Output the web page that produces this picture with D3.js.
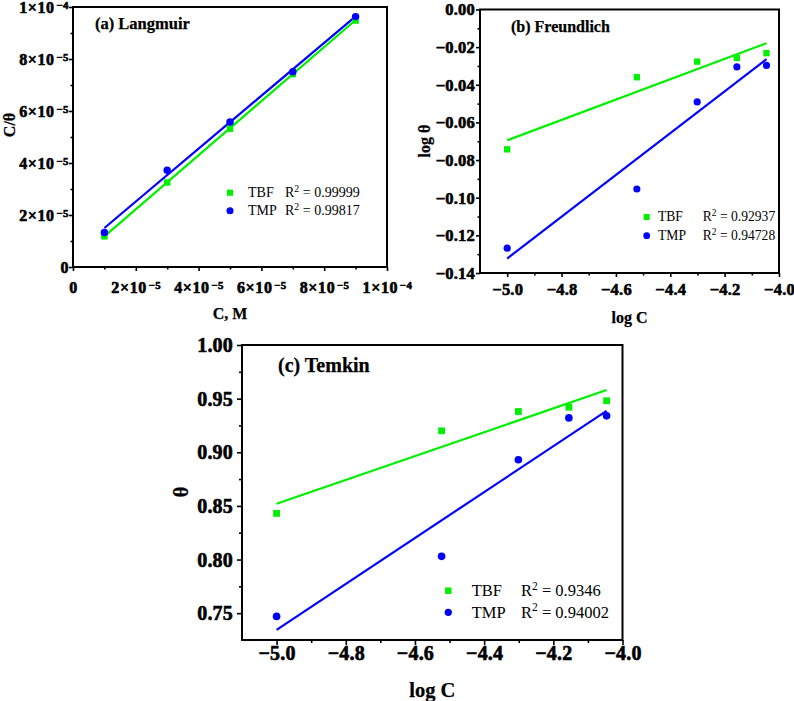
<!DOCTYPE html>
<html>
<head>
<meta charset="utf-8">
<script src="https://cdnjs.cloudflare.com/ajax/libs/d3/7.8.5/d3.min.js"></script>
<style>
  body { margin: 0; background: #fff; }
  svg { display: block; }
  .ticklab { font-family: 'Liberation Serif', 'Times New Roman', serif; font-weight: bold; fill: #000; stroke: #000; stroke-width: 0.6px; }
</style>
</head>
<body>
<svg id="chart" width="794" height="701"></svg>
<script>
// ---- data ----
var seriesNames = ["TBF", "TMP"];
var concM = [1e-5, 3e-5, 5e-5, 7e-5, 9e-5];
var logC  = [-5.0, -4.523, -4.301, -4.155, -4.046];

// (a) Langmuir  C/theta vs C
var langTBF = [1.18e-5, 3.25e-5, 5.32e-5, 7.42e-5, 9.48e-5];
var langTMP = [1.33e-5, 3.72e-5, 5.58e-5, 7.51e-5, 9.63e-5];
var langFitTBF = [[1e-5, 1.18e-5], [9e-5, 9.50e-5]];
var langFitTMP = [[1e-5, 1.50e-5], [9e-5, 9.64e-5]];
var langR2 = ["0.99999", "0.99817"];

// (b) Freundlich  log theta vs log C
var freTBF = [-0.0743, -0.0360, -0.0277, -0.0257, -0.0232];
var freTMP = [-0.1268, -0.0954, -0.0491, -0.0305, -0.0297];
var freFitTBF = [[-5.0, -0.0695], [-4.046, -0.0179]];
var freFitTMP = [[-5.0, -0.1323], [-4.046, -0.0264]];
var freR2 = ["0.92937", "0.94728"];

// (c) Temkin  theta vs log C
var temTBF = [0.843, 0.920, 0.938, 0.942, 0.948];
var temTMP = [0.747, 0.803, 0.893, 0.932, 0.934];
var temFitTBF = [[-5.0, 0.852], [-4.046, 0.958]];
var temFitTMP = [[-5.0, 0.7345], [-4.046, 0.9386]];
var temR2 = ["0.9346", "0.94002"];

// ticks
var langTicks = [0, 2e-5, 4e-5, 6e-5, 8e-5, 1e-4];
var langTickLabels = ["0", "2×10^−5", "4×10^−5", "6×10^−5", "8×10^−5", "1×10^−4"];
var langMinor = [1e-5, 3e-5, 5e-5, 7e-5, 9e-5];
var logCTicks = [-5.0, -4.8, -4.6, -4.4, -4.2, -4.0];
var logCTickLabels = ["−5.0", "−4.8", "−4.6", "−4.4", "−4.2", "−4.0"];
var logCMinor = [-4.9, -4.7, -4.5, -4.3, -4.1];
var freTicks = [0, -0.02, -0.04, -0.06, -0.08, -0.10, -0.12, -0.14];
var freTickLabels = ["0.00", "−0.02", "−0.04", "−0.06", "−0.08", "−0.10", "−0.12", "−0.14"];
var freMinor = [-0.01, -0.03, -0.05, -0.07, -0.09, -0.11, -0.13];
var temTicks = [0.75, 0.80, 0.85, 0.90, 0.95, 1.00];
var temTickLabels = ["0.75", "0.80", "0.85", "0.90", "0.95", "1.00"];
var temMinor = [0.775, 0.825, 0.875, 0.925, 0.975];

var svg = d3.select("#chart");
var serif = "'Liberation Serif', 'Times New Roman', serif";
var colors = ["#00f000", "#0000ff"];

// write "a^b" as text with a superscript
function supText(sel, str, fs) {
  var parts = str.split("^");
  sel.text(null);
  sel.append("tspan").text(parts[0]);
  if (parts.length > 1) {
    sel.append("tspan").attr("dx", 1.5).attr("dy", -fs * 0.26)
      .style("font-size", (fs * 0.68) + "px").text(parts[1]);
  }
}

function drawPanel(p) {
  var x = d3.scaleLinear().domain(p.xDomain).range([p.left, p.right]);
  var y = d3.scaleLinear().domain(p.yDomain).range([p.bottom, p.top]);
  var g = svg.append("g").attr("class", p.name);

  // minor ticks
  g.append("g").attr("transform", "translate(0," + p.bottom + ")")
    .call(d3.axisBottom(x).tickValues(p.xMinor).tickSize(p.minor).tickSizeOuter(0).tickFormat(""));
  g.append("g").attr("transform", "translate(" + p.left + ",0)")
    .call(d3.axisLeft(y).tickValues(p.yMinor).tickSize(p.minor).tickSizeOuter(0).tickFormat(""));

  // major ticks + labels
  var xa = g.append("g").attr("transform", "translate(0," + p.bottom + ")")
    .call(d3.axisBottom(x).tickValues(p.xTicks).tickSize(p.major).tickSizeOuter(0)
      .tickFormat(function(d, i) { return p.xLabels[i]; }));
  var ya = g.append("g").attr("transform", "translate(" + p.left + ",0)")
    .call(d3.axisLeft(y).tickValues(p.yTicks).tickSize(p.major).tickSizeOuter(0)
      .tickFormat(function(d, i) { return p.yLabels[i]; }));

  g.selectAll(".domain").remove();
  g.selectAll(".tick line").attr("stroke", "#000").attr("stroke-width", 1.6);

  [xa, ya].forEach(function(a) {
    a.attr("font-family", null).attr("font-size", null).attr("fill", null);
    a.selectAll("text")
      .attr("class", "ticklab")
      .attr("fill", null)
      .style("font-size", p.tickFont + "px")
      .style("letter-spacing", p.tickSpacing + "px")
      .each(function() {
        var t = d3.select(this);
        supText(t, t.text(), p.tickFont);
      });
  });
  xa.selectAll("text").attr("y", p.xLabelY).attr("dy", 0);
  ya.selectAll("text").attr("x", -p.yLabelGap).attr("dy", "0.33em");

  // frame
  g.append("rect")
    .attr("x", p.left).attr("y", p.top)
    .attr("width", p.right - p.left).attr("height", p.bottom - p.top)
    .attr("fill", "none").attr("stroke", "#000").attr("stroke-width", 2);

  // fit lines
  [p.fitA, p.fitB].forEach(function(f, k) {
    g.append("line")
      .attr("x1", x(f[0][0])).attr("y1", y(f[0][1]))
      .attr("x2", x(f[1][0])).attr("y2", y(f[1][1]))
      .attr("stroke", colors[k]).attr("stroke-width", 2.2);
  });

  // points
  var shapes = [d3.symbolSquare, d3.symbolCircle];
  [p.seriesA, p.seriesB].forEach(function(s, k) {
    g.selectAll(null).data(s).enter().append("path")
      .attr("d", d3.symbol().type(shapes[k]).size(p.mark[k]))
      .attr("transform", function(d, i) { return "translate(" + x(p.xs[i]) + "," + y(d) + ")"; })
      .attr("fill", colors[k]);
  });

  // panel title
  g.append("text").attr("x", p.title[0]).attr("y", p.title[1])
    .attr("stroke", "#000").attr("stroke-width", 0.25)
    .style("font-family", serif).style("font-weight", "bold").style("font-size", p.titleFont + "px")
    .text(p.titleText);

  // axis titles
  g.append("text").attr("x", (p.left + p.right) / 2).attr("y", p.xTitleY)
    .attr("text-anchor", "middle")
    .attr("stroke", "#000").attr("stroke-width", 0.25)
    .style("font-family", serif).style("font-weight", "bold").style("font-size", p.axisFont + "px")
    .text(p.xTitle);
  g.append("text")
    .attr("transform", "translate(" + p.yTitle[0] + "," + p.yTitle[1] + ") rotate(-90)")
    .attr("text-anchor", "middle")
    .attr("stroke", "#000").attr("stroke-width", 0.25)
    .style("font-family", serif).style("font-weight", "bold").style("font-size", p.axisFont + "px")
    .text(p.yTitleText);

  // legend
  seriesNames.forEach(function(name, k) {
    var ly = p.legend[1] + k * p.legend[4];
    g.append("path")
      .attr("d", d3.symbol().type(shapes[k]).size(p.mark[k] * 0.9))
      .attr("transform", "translate(" + p.legend[0] + "," + ly + ")")
      .attr("fill", colors[k]);
    g.append("text").attr("x", p.legend[2]).attr("y", ly + p.legendFont * 0.33)
      .style("font-family", serif).style("font-size", p.legendFont + "px")
      .text(name);
    var r = g.append("text").attr("x", p.legend[3]).attr("y", ly + p.legendFont * 0.33)
      .style("font-family", serif).style("font-size", p.legendFont + "px");
    r.append("tspan").text("R");
    r.append("tspan").attr("dy", -p.legendFont * 0.4).style("font-size", (p.legendFont * 0.7) + "px").text("2");
    r.append("tspan").attr("dy", p.legendFont * 0.4).text(" = " + p.r2[k]);
  });
}

drawPanel({
  name: "langmuir", left: 73, right: 387, top: 7, bottom: 267,
  xDomain: [0, 1e-4], yDomain: [0, 1e-4],
  xTicks: langTicks, xLabels: langTickLabels, xMinor: langMinor,
  yTicks: langTicks, yLabels: langTickLabels, yMinor: langMinor,
  major: 4, minor: 2.5, tickFont: 16, tickSpacing: 0.6, xLabelY: 26, yLabelGap: 4,
  xs: concM, seriesA: langTBF, seriesB: langTMP, fitA: langFitTBF, fitB: langFitTMP,
  mark: [42, 44],
  title: [95, 29], titleFont: 16.5, titleText: "(a) Langmuir",
  xTitle: "C, M", xTitleY: 319, yTitle: [15, 125], yTitleText: "C/θ", axisFont: 16,
  legend: [230, 192.7, 248, 285, 18], legendFont: 14, r2: langR2
});

drawPanel({
  name: "freundlich", left: 480, right: 779, top: 9.5, bottom: 273,
  xDomain: [-5.1, -4.0], yDomain: [-0.14, 0],
  xTicks: logCTicks, xLabels: logCTickLabels, xMinor: logCMinor,
  yTicks: freTicks, yLabels: freTickLabels, yMinor: freMinor,
  major: 4, minor: 2.5, tickFont: 16.5, tickSpacing: 0.2, xLabelY: 22, yLabelGap: 5,
  xs: logC, seriesA: freTBF, seriesB: freTMP, fitA: freFitTBF, fitB: freFitTMP,
  mark: [40, 40],
  title: [511, 32], titleFont: 16, titleText: "(b) Freundlich",
  xTitle: "log C", xTitleY: 323, yTitle: [430, 141], yTitleText: "log θ", axisFont: 16,
  legend: [646.7, 217, 658, 702.7, 18.7], legendFont: 13.6, r2: freR2
});

drawPanel({
  name: "temkin", left: 242, right: 622.5, top: 345, bottom: 640,
  xDomain: [-5.1, -4.0], yDomain: [0.725, 1.0],
  xTicks: logCTicks, xLabels: logCTickLabels, xMinor: logCMinor,
  yTicks: temTicks, yLabels: temTickLabels, yMinor: temMinor,
  major: 5, minor: 3, tickFont: 20, tickSpacing: 0.2, xLabelY: 20, yLabelGap: 9,
  xs: logC, seriesA: temTBF, seriesB: temTMP, fitA: temFitTBF, fitB: temFitTMP,
  mark: [46, 46],
  title: [278, 372], titleFont: 20, titleText: "(c) Temkin",
  xTitle: "log C", xTitleY: 697, yTitle: [188, 492], yTitleText: "θ", axisFont: 20.5,
  legend: [448.3, 590.7, 471.7, 521, 21.6], legendFont: 16.5, r2: temR2
});
</script>
</body>
</html>
